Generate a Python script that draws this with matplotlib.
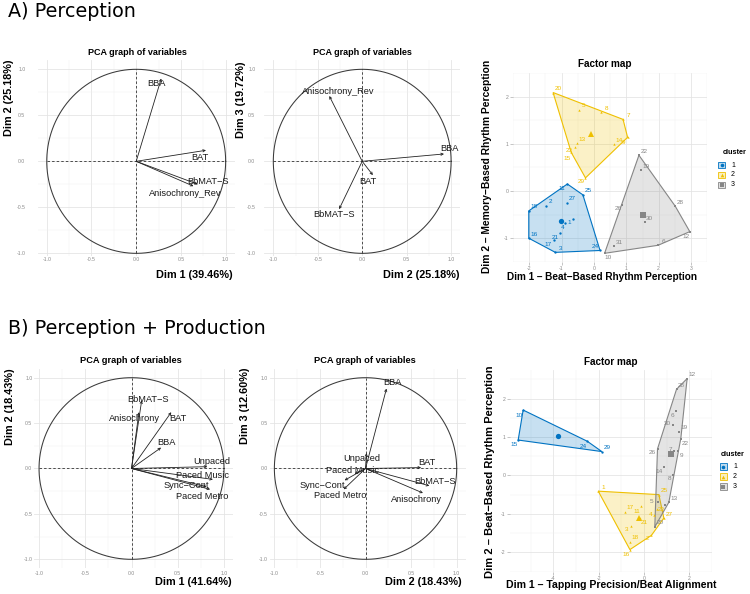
import numpy as np
import matplotlib
matplotlib.use('Agg')
import matplotlib.pyplot as plt
from matplotlib.patches import Polygon, Rectangle
from matplotlib.colors import to_rgba

plt.rcParams['font.family'] = ['Liberation Sans', 'DejaVu Sans']

# ---------------- DATA ----------------
# A) Perception - PCA variables
A_vars = ['BBA', 'BAT', 'BbMAT\u2212S', 'Anisochrony_Rev']
A_dim1 = [0.28, 0.78, 0.69, 0.64]          # x of left panel
A_dim2_left = [0.90, 0.12, -0.25, -0.27]   # y of left panel
A_dim2_mid = [0.92, 0.12, -0.26, -0.37]    # x of middle panel
A_dim3 = [0.08, -0.15, -0.52, 0.71]        # y of middle panel

# B) Perception + Production - PCA variables
B_vars = ['BbMAT\u2212S', 'Anisochrony', 'BAT', 'BBA', 'Unpaced',
          'Paced Music', 'Sync\u2212Cont', 'Paced Metro']
B_dim1 = [0.11, 0.08, 0.43, 0.32, 0.82, 0.88, 0.81, 0.85]
B_dim2_left = [0.75, 0.62, 0.62, 0.23, 0.02, -0.12, -0.20, -0.23]
B_dim2_mid = [0.70, 0.63, 0.61, 0.23, 0.01, -0.12, -0.23, -0.24]
B_dim3 = [-0.19, -0.27, 0.01, 0.88, 0.17, -0.06, -0.13, -0.23]

# A) Factor map (clusters)
A1_ids = ['11', '25', '24', '3', '16', '18', '2', '27', '4', '1', '21', '17']
A1_x = [-0.82, -0.34, 0.19, -1.19, -2.01, -2.01, -1.49, -0.82, -0.88, -0.64, -1.06, -1.22]
A1_y = [0.15, -0.08, -1.26, -1.30, -1.00, -0.42, -0.31, -0.25, -0.67, -0.59, -0.88, -1.04]
A2_ids = ['20', '5', '8', '7', '9', '14', '13', '23', '15', '29']
A2_x = [-1.26, -0.47, 0.23, 0.90, 1.04, 0.61, -0.52, -0.59, -0.70, -0.26]
A2_y = [2.09, 1.72, 1.67, 1.52, 1.14, 0.99, 1.01, 0.94, 0.82, 0.28]
A3_ids = ['22', '19', '28', '12', '6', '10', '31', '26', '30']
A3_x = [1.39, 1.46, 2.51, 2.96, 1.98, 0.33, 0.62, 0.87, 1.57]
A3_y = [0.76, 0.44, -0.32, -0.86, -1.15, -1.32, -1.17, -0.29, -0.66]
A_centers_x = [-1.03, -0.09, 1.52]
A_centers_y = [-0.64, 1.22, -0.50]

# B) Factor map (clusters)
B1_ids = ['10', '15', '24', '29']
B1_x = [-5.34, -5.56, -2.51, -1.86]
B1_y = [1.70, 0.92, 0.89, 0.62]
B2_ids = ['1', '25', '17', '11', '21', '3', '18', '16', '2', '4', '23', '27']
B2_x = [-2.02, 0.66, -0.84, -0.12, -0.17, -0.59, -0.62, -0.62, 0.33, 0.46, 0.58, 0.88]
B2_y = [-0.41, -0.50, -0.95, -0.80, -1.12, -1.31, -1.72, -1.93, -1.56, -1.03, -0.88, -1.11]
B3_ids = ['12', '28', '6', '30', '19', '22', '7', '9', '26', '14', '8', '13', '5', '20', '']
B3_x = [1.91, 1.44, 1.42, 1.29, 1.53, 1.63, 1.33, 1.49, 0.60, 0.89, 1.29, 1.10, 0.62, 0.48, 0.92]
B3_y = [2.52, 2.24, 1.67, 1.32, 1.14, 0.96, 0.63, 0.63, 0.69, 0.21, 0.02, -0.70, -0.70, -1.34, -0.77]
B_centers_x = [-3.82, -0.22, 1.19]
B_centers_y = [1.03, -1.10, 0.55]

cluster_names = ['1', '2', '3']

# ---------------- STYLE ----------------
COLS = ['#0073C2', '#EFC000', '#868686']
MARKERS = ['o', '^', 's']

# label offsets (pixels: right, down) relative to point / arrow tip
A_left_off = [(-5, 5), (-6, 7), (10, -3), (-8, 7)]
A_mid_off = [(5, -5), (-5, 6), (-5, 5), (9, -4)]
B_left_off = [(6, -1), (-4, 6), (7, 6), (5, -5), (4, -5), (-10, -4), (-20, -1), (-8, 7)]
B_mid_off = [(6, -4), (-6, 6), (6, -5), (6, -6), (-5, 5), (-2, -3), (-22, 5), (-3, 6)]
DEF_OFF = (5, -4)
A_lab_off = {'29': (-4, 4), '15': (-4, 6), '23': (-6, 4), '11': (-5, 4), '24': (-5, -4),
             '4': (-3, 5), '1': (-4, 4), '21': (-4, 5), '17': (-6, 4), '12': (-4, 5),
             '10': (4, 4), '26': (-4, 4), '9': (-4, 5)}
B_lab_off = {'10': (-4, 5), '15': (-4, 4), '24': (-4, 5), '11': (-4, 5), '21': (4, 4),
             '3': (-4, 4), '16': (-4, 5), '2': (-4, 3), '4': (-4, 0), '23': (4, 0),
             '5': (-6, -1), '6': (-4, 4), '30': (-6, -1), '22': (4, 5), '7': (-4, -2),
             '9': (4, 4), '26': (-5, 4), '14': (-5, 4), '8': (-4, 4)}

W, H = 750, 594
fig = plt.figure(figsize=(7.5, 5.94), dpi=100)


def add_ax(l, t, r, b):
    return fig.add_axes([l / W, 1 - b / H, (r - l) / W, (b - t) / H])


def ftext(x, y, s, **kw):
    return fig.text(x / W, 1 - y / H, s, **kw)


def hull(px, py):
    pts = sorted(set(zip(px, py)))
    if len(pts) < 3:
        return pts

    def cross(o, a, b):
        return (a[0] - o[0]) * (b[1] - o[1]) - (a[1] - o[1]) * (b[0] - o[0])
    lower, upper = [], []
    for p in pts:
        while len(lower) >= 2 and cross(lower[-2], lower[-1], p) <= 0:
            lower.pop()
        lower.append(p)
    for p in reversed(pts):
        while len(upper) >= 2 and cross(upper[-2], upper[-1], p) <= 0:
            upper.pop()
        upper.append(p)
    return lower[:-1] + upper[:-1]


def style_axes(ax, xmaj, ymaj, xmin, ymin, xlabels, ylabels, xpad, ypad, ticklen):
    ax.set_xticks(xmaj)
    ax.set_yticks(ymaj)
    ax.set_xticklabels(xlabels)
    ax.set_yticklabels(ylabels)
    ax.set_xticks(xmin, minor=True)
    ax.set_yticks(ymin, minor=True)
    ax.grid(which='major', color='#E3E3E3', lw=0.55)
    ax.grid(which='minor', color='#EFEFEF', lw=0.35)
    ax.set_axisbelow(True)
    for s in ax.spines.values():
        s.set_visible(False)
    ax.tick_params(which='minor', length=0)
    ax.tick_params(which='major', length=ticklen, width=0.4, color='#9A9A9A',
                   labelsize=3.7, labelcolor='#8A8A8A')
    ax.tick_params(axis='x', pad=xpad)
    ax.tick_params(axis='y', pad=ypad)


def pca_panel(box, ylim, xs, ys, names, offs, xpad, ypad, xleft=-1.1):
    ax = add_ax(*box)
    ax.set_xlim(xleft, 1.1)
    ax.set_ylim(*ylim)
    maj = [-1, -0.5, 0, 0.5, 1]
    labs = ['-1.0', '-0.5', '0.0', '0.5', '1.0']
    style_axes(ax, maj, maj, [-0.75, -0.25, 0.25, 0.75], [-0.75, -0.25, 0.25, 0.75],
               labs, labs, xpad, ypad, 0)
    th = np.linspace(0, 2 * np.pi, 400)
    ax.plot(np.cos(th), np.sin(th), color='#3A3A3A', lw=0.75)
    ax.plot([-1, 1], [0, 0], color='#333333', lw=0.6, ls=(0, (3, 2.5)))
    ax.plot([0, 0], [-1, 1], color='#333333', lw=0.6, ls=(0, (3, 2.5)))
    for x, y, n, (dx, dy) in zip(xs, ys, names, offs):
        ax.annotate('', xy=(x, y), xytext=(0, 0),
                    arrowprops=dict(arrowstyle='->', color='#222222', lw=0.6,
                                    mutation_scale=4, shrinkA=0, shrinkB=0))
        ax.annotate(n, xy=(x, y), xytext=(dx, -dy), textcoords='offset pixels',
                    ha='center', va='center', fontsize=6.7, color='#1A1A1A')
    return ax


def factor_panel(box, xlim, ylim, xmaj, ymaj, clusters, centers, lab_off):
    ax = add_ax(*box)
    ax.set_xlim(*xlim)
    ax.set_ylim(*ylim)
    step = xmaj[1] - xmaj[0]
    xmin = [xmaj[0] - step / 2] + [v + step / 2 for v in xmaj]
    ymin = [ymaj[0] - 0.5] + [v + 0.5 for v in ymaj]
    style_axes(ax, xmaj, ymaj, xmin, ymin, [str(v) for v in xmaj], [str(v) for v in ymaj],
               1.0, 1.0, 2)
    for k, (ids, xs, ys) in enumerate(clusters):
        c = COLS[k]
        hp = hull(xs, ys)
        ax.add_patch(Polygon(hp, closed=True, facecolor=to_rgba(c, 0.22),
                             edgecolor=c, lw=0.8, zorder=2))
        ax.plot(xs, ys, ls='none', marker=MARKERS[k], ms=1.7, color=c, mew=0, zorder=3)
        for i, x, y in zip(ids, xs, ys):
            if not i:
                continue
            dx, dy = lab_off.get(i, DEF_OFF)
            ax.annotate(i, xy=(x, y), xytext=(dx, -dy), textcoords='offset pixels',
                        ha='center', va='center', fontsize=4.6, color=c, zorder=4)
        ax.plot(centers[0][k], centers[1][k], marker=MARKERS[k], ms=3.8, color=c,
                mew=0, zorder=4)
    return ax


def legend(tx, ty, kx, lx, ys):
    ftext(tx, ty, 'cluster', fontsize=5.2, fontweight='bold', ha='left', va='center')
    lax = add_ax(kx - 6, ys[0] - 6, lx + 10, ys[-1] + 6)
    lax.set_xlim(kx - 6, lx + 10)
    lax.set_ylim(ys[-1] + 6, ys[0] - 6)
    lax.axis('off')
    for k, y in enumerate(ys):
        c = COLS[k]
        lax.add_patch(Rectangle((kx - 3.3, y - 3.3), 6.6, 6.6, facecolor=to_rgba(c, 0.25),
                                edgecolor=c, lw=0.6))
        lax.plot(kx, y, marker=MARKERS[k], ms=2.6, color=c, mew=0)
        lax.text(lx, y, cluster_names[k], fontsize=5.0, ha='left', va='center')


# ---------------- SECTION HEADINGS ----------------
ftext(8, 17.3, 'A) Perception', fontsize=13.8, family='DejaVu Sans', va='baseline', ha='left')
ftext(8, 334, 'B) Perception + Production', fontsize=13.8, family='DejaVu Sans',
      va='baseline', ha='left')

# ---------------- A: PCA panels ----------------
pca_panel((37.8, 60.1, 234.6, 256.1), (-1.03, 1.1), A_dim1, A_dim2_left, A_vars,
          A_left_off, 1.0, 9.0)
ftext(137, 52.7, 'PCA graph of variables', fontsize=6.5, fontweight='bold', ha='center', va='center')
ftext(9, 60, 'Dim 2 (25.18%)', fontsize=7.8, fontweight='bold', rotation=90, ha='center', va='top')
ftext(233, 275, 'Dim 1 (39.46%)', fontsize=7.8, fontweight='bold', ha='right', va='center')

pca_panel((264.4, 60.1, 460.0, 256.1), (-1.03, 1.1), A_dim2_mid, A_dim3, A_vars,
          A_mid_off, 1.0, 6.5)
ftext(362.5, 52.7, 'PCA graph of variables', fontsize=6.5, fontweight='bold', ha='center', va='center')
ftext(241, 62, 'Dim 3 (19.72%)', fontsize=7.8, fontweight='bold', rotation=90, ha='center', va='top')
ftext(460, 275, 'Dim 2 (25.18%)', fontsize=7.8, fontweight='bold', ha='right', va='center')

# ---------------- A: Factor map ----------------
factor_panel((512.9, 73.2, 707.3, 261.8), (-2.04, 3.2), (-1.45, 2.24),
             [-2, -1, 0, 1, 2, 3], [-1, 0, 1, 2],
             [(A1_ids, A1_x, A1_y), (A2_ids, A2_x, A2_y), (A3_ids, A3_x, A3_y)],
             (A_centers_x, A_centers_y), A_lab_off)
ftext(605, 64, 'Factor map', fontsize=7.2, fontweight='bold', ha='center', va='center')
ftext(487, 166, 'Dim 2 \u2013 Memory\u2212Based Rhythm Perception', fontsize=7.4,
      fontweight='bold', rotation=90, ha='center', va='center')
ftext(602, 277, 'Dim 1 \u2013 Beat\u2212Based Rhythm Perception', fontsize=7.2,
      fontweight='bold', ha='center', va='center')
legend(723, 152.7, 721.7, 731.0, [165, 175, 185])

# ---------------- B: PCA panels ----------------
pca_panel((34.4, 368.6, 233.25, 568.4), (-1.1, 1.1), B_dim1, B_dim2_left, B_vars,
          B_left_off, 2.0, 1.5, xleft=-1.05)
ftext(131, 360.7, 'PCA graph of variables', fontsize=6.7, fontweight='bold', ha='center', va='center')
ftext(10, 368, 'Dim 2 (18.43%)', fontsize=7.8, fontweight='bold', rotation=90, ha='center', va='top')
ftext(232, 582, 'Dim 1 (41.64%)', fontsize=7.8, fontweight='bold', ha='right', va='center')

pca_panel((269.8, 368.6, 465.8, 568.4), (-1.1, 1.1), B_dim2_mid, B_dim3, B_vars,
          B_mid_off, 2.0, 1.5, xleft=-1.05)
ftext(365, 360.7, 'PCA graph of variables', fontsize=6.7, fontweight='bold', ha='center', va='center')
ftext(245, 368, 'Dim 3 (12.60%)', fontsize=7.8, fontweight='bold', rotation=90, ha='center', va='top')
ftext(462, 582, 'Dim 2 (18.43%)', fontsize=7.8, fontweight='bold', ha='right', va='center')

# ---------------- B: Factor map ----------------
factor_panel((509.8, 369.7, 711.8, 571.5), (-5.93, 2.28), (-2.16, 2.75),
             [-4, -2, 0, 2], [-2, -1, 0, 1, 2],
             [(B1_ids, B1_x, B1_y), (B2_ids, B2_x, B2_y), (B3_ids, B3_x, B3_y)],
             (B_centers_x, B_centers_y), B_lab_off)
ftext(610.7, 361.7, 'Factor map', fontsize=7.2, fontweight='bold', ha='center', va='center')
ftext(490, 472, 'Dim 2 \u2013 Beat\u2212Based Rhythm Perception', fontsize=8.0,
      fontweight='bold', rotation=90, ha='center', va='center')
ftext(611.5, 585, 'Dim 1 \u2013 Tapping Precision/Beat Alignment', fontsize=7.6,
      fontweight='bold', ha='center', va='center')
legend(720.7, 455, 723.3, 733.0, [466.7, 476.7, 486.7])

fig.savefig('out.png', dpi=100, facecolor='white')
